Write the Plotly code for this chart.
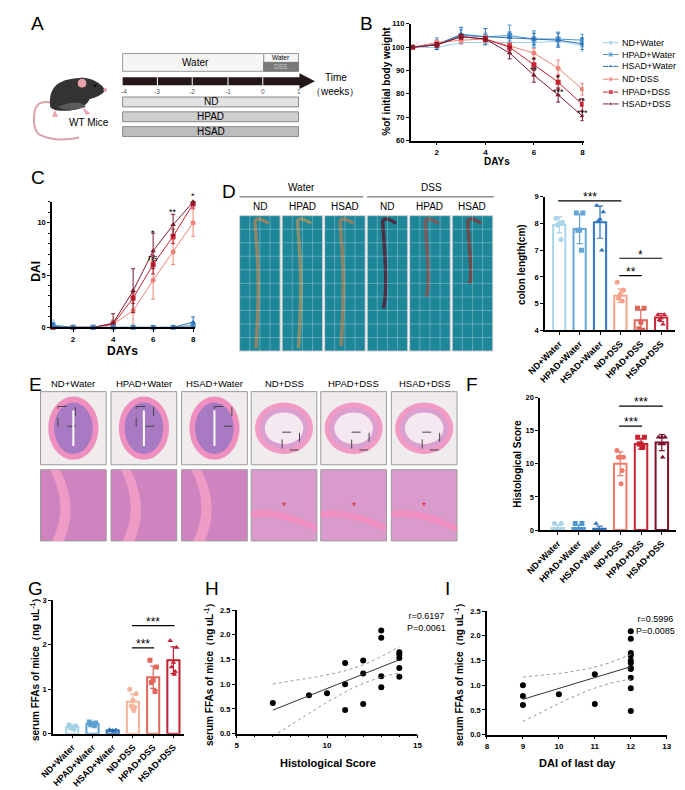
import numpy as np
import plotly.graph_objects as go

W, H = 685, 790
FONT = "Liberation Sans, Arial, sans-serif"

# ---------------- data ----------------
groups = ["ND+Water", "HPAD+Water", "HSAD+Water", "ND+DSS", "HPAD+DSS", "HSAD+DSS"]
line_colors = ["#9fcfe6", "#4d98d0", "#2f70b6", "#ef8377", "#c9212f", "#7d1a2d"]
symbols = ["circle", "square", "triangle-up", "circle", "square", "triangle-up"]

days = [1, 2, 3, 4, 5, 6, 7, 8]

# B: % of initial body weight
weight_mean = [
    [100, 99.8, 102, 102, 102, 102, 102.5, 100.8],
    [100, 101.5, 105, 104.5, 105, 103.5, 103.5, 103],
    [100, 101, 105.5, 104.5, 104, 103.5, 103, 101.5],
    [100, 102, 103, 103.5, 100.5, 97.5, 91, 82],
    [100, 101, 104.5, 103.5, 100, 92.5, 85, 75.5],
    [100, 101, 104.5, 103.5, 97.5, 88, 79.5, 70.5],
]
weight_sd = [
    [0, 0.6, 0.8, 0.8, 1.0, 1.5, 1.5, 2.5],
    [0, 2.5, 2.5, 1.5, 4.5, 3.5, 3.0, 2.5],
    [0, 2.0, 3.0, 3.5, 2.5, 2.5, 3.0, 2.5],
    [0, 1.0, 1.5, 1.5, 1.5, 2.0, 3.5, 2.5],
    [0, 1.0, 1.0, 1.0, 1.5, 2.5, 3.0, 2.5],
    [0, 1.0, 1.0, 1.0, 2.5, 3.0, 3.0, 2.0],
]
weight_stars = [(6, 94.5, "*"), (6, 90.3, "**"), (7, 86.7, "*"), (7, 81.0, "***"),
                (8, 76.9, "**"), (8, 71.8, "***")]

# C: DAI
dai_mean = [
    [0.2, 0, 0, 0, 0, 0, 0, 0.1],
    [0.2, 0, 0, 0, 0, 0, 0, 0.2],
    [0.1, 0, 0, 0, 0, 0, 0, 0.5],
    [0, 0, 0, 0.3, 1.6, 4.5, 7.2, 10],
    [0, 0, 0, 0.3, 2.8, 6.0, 8.7, 11.8],
    [0, 0, 0, 0.4, 3.5, 7.3, 9.8, 12],
]
dai_sd = [
    [0.5, 0, 0, 0, 0, 0, 0, 0.3],
    [0.3, 0, 0, 0, 0, 0, 0, 0.3],
    [0.3, 0, 0, 0, 0, 0, 0, 0.5],
    [0, 0, 0, 0.4, 1.4, 1.8, 1.2, 1.3],
    [0, 0, 0, 0.3, 0.5, 0.9, 0.7, 0.4],
    [0, 0, 0, 0.9, 2.1, 1.7, 1.0, 0.3],
]
dai_stars = [(6, 9.0, "*"), (6, 6.6, "ns"), (7, 11.0, "**"), (8, 12.6, "*")]

# D: colon length (cm)
colon_mean = [7.95, 7.8, 8.05, 5.3, 4.38, 4.48]
colon_sd = [0.3, 0.55, 0.6, 0.25, 0.4, 0.15]
colon_pts = [
    [8.2, 8.05, 8.0, 7.95, 7.4],
    [8.4, 8.4, 7.75, 7.75, 7.0],
    [8.68, 8.43, 8.16, 8.1, 7.0],
    [5.8, 5.5, 5.35, 5.2, 5.1],
    [4.83, 4.83, 4.3, 4.06, 4.0],
    [4.58, 4.58, 4.46, 4.4, 4.23],
]
colon_colors = ["#a9d4ea", "#63a6d8", "#2f74bd", "#f3a38b", "#e0645a", "#c8283a"]
colon_sig = [(0, 3, 8.85, "***"), (3, 5, 6.7, "*"), (3, 4, 6.05, "**")]

# F: histological score
histo_mean = [0.3, 0.3, 0.2, 10, 13, 13.2]
histo_sd = [0.45, 0.45, 0.4, 1.8, 0.8, 1.2]
histo_pts = [
    [1, 1, 0, 0, 0],
    [1, 1, 0, 0, 0],
    [1, 0, 0, 0, 0],
    [12, 11, 11, 11, 9, 7],
    [14, 14, 13, 13, 12.5, 12.5],
    [14, 14, 14, 13, 13, 11],
]
histo_colors = ["#a9d4ea", "#4d98d0", "#2f70b6", "#ee7b6b", "#c9212f", "#7a1128"]
histo_sig = [(3, 5, 18.7, "***"), (3, 4, 15.7, "***")]

# G: serum FFAs
ffa_mean = [0.15, 0.22, 0.07, 0.72, 1.27, 1.65]
ffa_sd = [0.04, 0.04, 0.02, 0.17, 0.25, 0.3]
ffa_pts = [
    [0.2, 0.18, 0.15, 0.12, 0.1],
    [0.26, 0.24, 0.22, 0.2, 0.18],
    [0.09, 0.08, 0.07, 0.06, 0.05],
    [1.0, 0.9, 0.75, 0.62, 0.6, 0.52],
    [1.65, 1.5, 1.2, 1.15, 0.95],
    [2.09, 1.94, 1.6, 1.5, 1.4, 1.33],
]
ffa_colors = ["#a6d2e6", "#5ba1d4", "#2a6db5", "#f6b49c", "#e0675a", "#c31d30"]
ffa_sig = [(3, 5, 2.43, "***"), (3, 4, 1.93, "***")]

# H: FFAs vs histological score
h_score = [7, 9, 10, 11, 11, 11, 12, 12, 12, 13, 13, 13, 13, 14, 14, 14, 14, 14]
h_ffa = [0.62, 0.78, 0.82, 1.43, 1.0, 0.48, 1.48, 1.22, 0.6, 2.09, 1.94, 1.16, 0.94,
         1.65, 1.6, 1.53, 1.33, 1.15]

# I: FFAs vs DAI of last day
i_dai = [9, 9, 9, 10, 11, 11, 12, 12, 12, 12, 12, 12, 12, 12, 12, 12, 12]
i_ffa = [1.0, 0.78, 0.6, 0.82, 1.22, 0.62, 2.09, 1.94, 1.65, 1.6, 1.5, 1.45, 1.35,
         1.33, 1.15, 0.94, 0.48]

# axis ranges (used for both layout and star placement)
RANGES = {"": ([0.92, 8.05], [60, 110]), "2": ([0.95, 8.1], [0, 12]),
          "3": ([-0.7, 5.7], [4, 9]), "4": ([-0.85, 5.7], [0, 20]),
          "5": ([-0.95, 5.5], [0, 3])}

# ---------------- helpers ----------------
def xd(a, b):
    return [a / W, b / W]


def yd(top, bottom):
    return [1 - bottom / H, 1 - top / H]


def axis(**kw):
    base = dict(showline=True, linecolor="black", linewidth=1.6, ticks="outside",
                ticklen=3, tickwidth=1.4, tickcolor="black", showgrid=False,
                zeroline=False, tickfont=dict(size=7.5, family=FONT, color="black", weight="bold"))
    base.update(kw)
    return base


annotations = []
shapes = []


def note(x, y, text, size=10, angle=0, bold=False, color="black", xanchor="center"):
    annotations.append(dict(xref="paper", yref="paper", x=x / W, y=1 - y / H, text=text,
                            showarrow=False, textangle=angle, xanchor=xanchor, yanchor="middle",
                            font=dict(size=size, color=color, family=FONT,
                                      weight="bold" if bold else "normal")))


def star(ax, x, y, text, size):
    # placed in axis-domain units so that labels above the axis range stay visible
    (x0, x1), (y0, y1) = RANGES[ax]
    annotations.append(dict(xref="x%s domain" % ax, yref="y%s domain" % ax,
                            x=(x - x0) / (x1 - x0), y=(y - y0) / (y1 - y0), text=text,
                            showarrow=False, xanchor="center", yanchor="middle",
                            font=dict(size=size, family=FONT, color="black")))


def rect(x0, y0, x1, y1, fill, line="rgba(0,0,0,0)", width=1, dash="solid", kind="rect"):
    shapes.append(dict(type=kind, xref="x8", yref="y8", x0=x0, y0=y0, x1=x1, y1=y1,
                       fillcolor=fill, line=dict(color=line, width=width, dash=dash), layer="below"))


def seg(x0, y0, x1, y1, color, width=1, ref="8", dash="solid"):
    shapes.append(dict(type="line", xref="x" + ref, yref="y" + ref, x0=x0, y0=y0, x1=x1, y1=y1,
                       line=dict(color=color, width=width, dash=dash)))


def path(d, fill, line="rgba(0,0,0,0)", width=1):
    shapes.append(dict(type="path", xref="x8", yref="y8", path=d, fillcolor=fill,
                       line=dict(color=line, width=width), layer="below"))


fig = go.Figure()

# ---------------- B ----------------
for g in range(6):
    fig.add_trace(go.Scatter(
        x=days, y=weight_mean[g], mode="lines+markers", xaxis="x", yaxis="y",
        line=dict(color=line_colors[g], width=1),
        marker=dict(symbol=symbols[g], size=5, color=line_colors[g]),
        error_y=dict(type="data", array=weight_sd[g], color=line_colors[g], thickness=1, width=2),
        showlegend=False))
for d, v, s in weight_stars:
    star("", d, v, s, 9)

# legend of B (manual, pixel coordinates)
for g, ly in enumerate([31, 43, 55, 68, 81, 93]):
    fig.add_trace(go.Scatter(x=[597, 605, 613], y=[ly, ly, ly], mode="lines+markers",
                             xaxis="x8", yaxis="y8", line=dict(color=line_colors[g], width=1),
                             marker=dict(symbol=symbols[g], size=[0, 5, 0], color=line_colors[g]),
                             showlegend=False, hoverinfo="skip"))
    note(615, ly, groups[g], size=9, xanchor="left")

# ---------------- C ----------------
order_c = [3, 4, 5, 0, 1, 2]
for g in order_c:
    fig.add_trace(go.Scatter(
        x=days, y=dai_mean[g], mode="lines+markers", xaxis="x2", yaxis="y2",
        line=dict(color=line_colors[g], width=1),
        marker=dict(symbol=symbols[g], size=5, color=line_colors[g]),
        error_y=dict(type="data", array=dai_sd[g], color=line_colors[g], thickness=1, width=2),
        cliponaxis=False, showlegend=False))
for d, v, s in dai_stars:
    star("2", d, v, s, 9)


# ---------------- bar panels ----------------
OFFS = [-0.16, 0.16, 0.0, -0.09, 0.09, 0.04]


def bar_panel(ax, means, sds, pts, colors, sig, star_gap):
    xa, ya = "x" + ax, "y" + ax
    for i in range(6):
        fig.add_trace(go.Bar(x=[i], y=[means[i]], width=0.6, xaxis=xa, yaxis=ya,
                             marker=dict(color="white", line=dict(color=colors[i], width=2)),
                             error_y=dict(type="data", array=[sds[i]], color=colors[i],
                                          thickness=1.2, width=3),
                             showlegend=False))
        n = len(pts[i])
        fig.add_trace(go.Scatter(x=[i + OFFS[k % 6] for k in range(n)], y=pts[i], mode="markers",
                                 xaxis=xa, yaxis=ya,
                                 marker=dict(symbol=symbols[i], size=5, color=colors[i]),
                                 showlegend=False))
    for a, b, v, s in sig:
        seg(a - 0.05, v, b + 0.05, v, "black", 1.2, ref=ax)
        star(ax, (a + b) / 2, v + star_gap, s, 12)


bar_panel("3", colon_mean, colon_sd, colon_pts, colon_colors, colon_sig, 0.14)
bar_panel("4", histo_mean, histo_sd, histo_pts, histo_colors, histo_sig, 0.6)
bar_panel("5", ffa_mean, ffa_sd, ffa_pts, ffa_colors, ffa_sig, 0.09)


# ---------------- correlation panels ----------------
def corr_panel(ax, xs, ys):
    xa, ya = "x" + ax, "y" + ax
    xs = np.array(xs, float)
    ys = np.array(ys, float)
    fig.add_trace(go.Scatter(x=xs, y=ys, mode="markers", xaxis=xa, yaxis=ya,
                             marker=dict(color="black", size=6), showlegend=False))
    slope, icpt = np.polyfit(xs, ys, 1)
    n = len(xs)
    resid = ys - (slope * xs + icpt)
    s = np.sqrt(np.sum(resid ** 2) / (n - 2))
    xm = xs.mean()
    sxx = np.sum((xs - xm) ** 2)
    gx = np.linspace(xs.min(), xs.max(), 40)
    fit = slope * gx + icpt
    half = 2.12 * s * np.sqrt(1 / n + (gx - xm) ** 2 / sxx)
    fig.add_trace(go.Scatter(x=gx, y=fit, mode="lines", xaxis=xa, yaxis=ya,
                             line=dict(color="#333", width=1), showlegend=False))
    for band in (fit + half, fit - half):
        fig.add_trace(go.Scatter(x=gx, y=band, mode="lines", xaxis=xa, yaxis=ya,
                                 line=dict(color="#999", width=1, dash="dot"), showlegend=False))


corr_panel("6", h_score, h_ffa)
corr_panel("7", i_dai, i_ffa)
note(392, 617, "r=0.6197<br>P=0.0061", size=9, xanchor="left")
note(629, 620, "r=0.5996<br>P=0.0085", size=9, xanchor="left")

# ---------------- panel A illustration (pixel coords) ----------------
rect(100, 42, 246, 60, "#f5f5f5", "#9a9a9a", 1)
note(175, 51, "Water", size=10)
rect(246, 42, 282, 51, "#f5f5f5", "#9a9a9a", 1)
rect(246, 51, 282, 60, "#7a7a7a", "#7a7a7a", 1)
note(264, 46.5, "Water", size=6.5)
note(264, 55.5, "DSS", size=6.5, color="#c8c8c8")
rect(100, 66, 284, 74, "#231815")
for tx in [136, 172, 209, 245]:
    seg(tx, 66, tx, 74, "white", 1)
path("M 283 62 L 299 70 L 283 78 Z", "#231815")
for tx, lab in zip([101, 136, 172, 209, 245, 282], ["-4", "-3", "-2", "-1", "0", "1"]):
    note(tx, 80, lab, size=6.5, color="#555")
note(321, 66, "Time", size=10)
note(320, 80, "（weeks）", size=10)
for y0, lab, col in [(86, "ND", "#e2e2e2"), (101, "HPAD", "#cfcfcf"), (116, "HSAD", "#bdbdbd")]:
    rect(100, y0, 282, y0 + 10, col, "#8a8a8a", 1)
    note(191, y0 + 5, lab, size=10)

# mouse
path("M 28 92 Q 12 88 9 100 Q 6 118 14 124 Q 30 132 55 127", "rgba(0,0,0,0)", "#d9a3aa", 2)
path("M 25 96 Q 22 72 45 68 Q 62 64 72 70 Q 80 74 82 80 Q 76 86 66 88 Q 60 100 40 100 Q 28 100 25 96 Z",
     "#333333")
path("M 32 96 Q 45 102 62 96 Q 58 90 45 92 Z", "#5a5a5a")
rect(53, 67, 63, 77, "#e8a3ad", "#333333", 1, kind="circle")
rect(70, 73, 73, 76, "#111111", kind="circle")
rect(80, 77, 84, 81, "#e8a3ad", kind="circle")
path("M 30 99 L 27 106 L 33 106 Z", "#e8a3ad")
path("M 58 96 L 62 104 L 67 103 Z", "#e8a3ad")
note(65, 112, "WT Mice", size=10)

# ---------------- panel D photos ----------------
note(285, 178, "Water", size=10)
note(420, 178, "DSS", size=10)
seg(221, 187, 349, 187, "#555", 1)
seg(353, 187, 484, 187, "#555", 1)
colon_end = [340, 340, 338, 300, 288, 272]
colon_col = ["#8f8467", "#87906a", "#8a8266", "#4a2f44", "#7a5a5a", "#6a4a4a"]
for i, lab in enumerate(["ND", "HPAD", "HSAD", "ND", "HPAD", "HSAD"]):
    x0 = 221 + i * 44
    note(x0 + 21, 197, lab, size=10)
    rect(x0, 206, x0 + 42, 343, "#1d8799", "#cfcfcf", 1)
    for gx in range(1, 4):
        seg(x0 + gx * 10.5, 206, x0 + gx * 10.5, 343, "rgba(255,255,255,0.35)", 0.8)
    for gy in range(1, 10):
        seg(x0, 206 + gy * 13.7, x0 + 42, 206 + gy * 13.7, "rgba(255,255,255,0.35)", 0.8)
    cx = x0 + 18
    path("M %d 214 Q %d 206 %d 212 L %d 240 Q %d 280 %d %d" % (
        x0 + 30, cx, cx - 2, cx, cx + 3, cx - 1, colon_end[i]), "rgba(0,0,0,0)", colon_col[i], 3.5)

# ---------------- panel E histology ----------------
e_x = [15, 88, 161, 233, 305, 378]
for i, lab in enumerate(groups):
    x0 = e_x[i]
    note(x0 + 34, 376, lab, size=9.5)
    rect(x0, 384, x0 + 68, 458, "#f0ecec", "#9a9a9a", 1)
    cx, cy = x0 + 34, 421
    if i < 3:
        rect(cx - 26, cy - 32, cx + 26, cy + 32, "#ee8fbf", kind="circle")
        rect(cx - 20, cy - 26, cx + 20, cy + 26, "#a97ac4", kind="circle")
        seg(cx, cy - 18, cx, cy + 18, "white", 2)
        rect(cx - 8 + (i - 1) * 8, cy - 22, cx + 10 + (i - 1) * 8, cy - 2, "rgba(0,0,0,0)", "#444", 1, "dash")
    else:
        rect(cx - 30, cy - 26, cx + 30, cy + 26, "#f19ac6", kind="circle")
        rect(cx - 25, cy - 21, cx + 25, cy + 21, "#d9a0d0", kind="circle")
        rect(cx - 20, cy - 16, cx + 20, cy + 16, "#f6e8f0", kind="circle")
        rect(cx - 2, cy + 4, cx + 16, cy + 22, "rgba(0,0,0,0)", "#444", 1, "dash")
    rect(x0, 463, x0 + 68, 535, "#cf84bf" if i < 3 else "#d99bcc", "#9a9a9a", 1)
    if i < 3:
        path("M %d 463 Q %d 500 %d 535 L %d 535 Q %d 500 %d 463 Z" % (
            x0 + 10, x0 + 30, x0 + 12, x0 + 24, x0 + 40, x0 + 20), "#ee9cc6")
    else:
        path("M %d 505 Q %d 500 %d 520 L %d 526 Q %d 508 %d 511 Z" % (
            x0, x0 + 30, x0 + 68, x0 + 68, x0 + 30, x0), "#ee8fbf")
        note(x0 + 34, 500, "*", size=10, color="#e02020")

# ---------------- axis titles and panel letters ----------------
note(373, 70, "%of initial body weight", size=10, angle=-90, bold=True)
note(487, 151, "DAYs", size=10, bold=True)
note(10, 262, "DAI", size=12, angle=-90, bold=True)
note(100, 343, "DAYs", size=12, bold=True)
note(512, 255, "colon length(cm)", size=10, angle=-90, bold=True)
note(509, 457, "Histological Score", size=10, angle=-90, bold=True)
note(10, 663, "serum FFAs of mice（ng uL<sup>-1</sup>）", size=10, angle=-90, bold=True)
note(190, 668, "serum FFAs of mice（ng uL<sup>-1</sup>）", size=10, angle=-90, bold=True)
note(448, 668, "serum FFAs of mice（ng uL<sup>-1</sup>）", size=10, angle=-90, bold=True)
note(312, 760, "Histological Score", size=11, bold=True)
note(571, 760, "DAI of last day", size=11, bold=True)

for lab, lx, ly in [("A", 12, 12), ("B", 352, 12), ("C", 12, 167), ("D", 210, 182),
                    ("E", 10, 377), ("F", 462, 377), ("G", 10, 583), ("H", 192, 583), ("I", 436, 583)]:
    note(lx, ly, lab, size=19)

# ---------------- layout ----------------
cat = dict(tickvals=list(range(6)), ticktext=groups, tickangle=-45,
           tickfont=dict(size=9, family=FONT, color="black", weight="bold"))
fig.update_layout(
    width=W, height=H, margin=dict(l=0, r=0, t=0, b=0),
    paper_bgcolor="white", plot_bgcolor="rgba(0,0,0,0)", showlegend=False, barmode="overlay",
    xaxis=axis(domain=xd(398, 577), range=RANGES[""][0], tickvals=[2, 4, 6, 8], anchor="y"),
    yaxis=axis(domain=yd(12, 130), range=RANGES[""][1], tickvals=[60, 70, 80, 90, 100, 110], anchor="x"),
    xaxis2=axis(domain=xd(27, 175), range=RANGES["2"][0], tickvals=[2, 4, 6, 8], anchor="y2"),
    yaxis2=axis(domain=yd(192, 319), range=RANGES["2"][1], tickvals=[0, 5, 10], anchor="x2",
                minor=dict(ticks="outside", ticklen=2, dtick=1, tickcolor="black")),
    xaxis3=axis(domain=xd(537, 672), range=RANGES["3"][0], anchor="y3", **cat),
    yaxis3=axis(domain=yd(187, 322), range=RANGES["3"][1], dtick=1, anchor="x3"),
    xaxis4=axis(domain=xd(532, 673), range=RANGES["4"][0], anchor="y4", **cat),
    yaxis4=axis(domain=yd(390, 524), range=RANGES["4"][1], dtick=5, anchor="x4"),
    xaxis5=axis(domain=xd(28, 163), range=RANGES["5"][0], anchor="y5", **cat),
    yaxis5=axis(domain=yd(595, 730), range=RANGES["5"][1], dtick=1, anchor="x5"),
    xaxis6=axis(domain=xd(218, 405), range=[5, 15], tickvals=[5, 10, 15], anchor="y6",
                minor=dict(ticks="outside", ticklen=2, dtick=1, tickcolor="black")),
    yaxis6=axis(domain=yd(605, 730), range=[0, 2.5], dtick=0.5, tickformat=".1f", anchor="x6"),
    xaxis7=axis(domain=xd(477, 663), range=[8, 13], dtick=1, anchor="y7"),
    yaxis7=axis(domain=yd(606, 731), range=[0, 2.5], dtick=0.5, tickformat=".1f", anchor="x7"),
    xaxis8=dict(domain=[0, 1], range=[0, W], visible=False, fixedrange=True, anchor="y8"),
    yaxis8=dict(domain=[0, 1], range=[H, 0], visible=False, fixedrange=True, anchor="x8"),
    annotations=annotations, shapes=shapes,
)
for ax in ["xaxis", "xaxis2", "xaxis6", "xaxis7"]:
    fig.layout[ax].tickfont.size = 8

fig.write_html("out.html")
